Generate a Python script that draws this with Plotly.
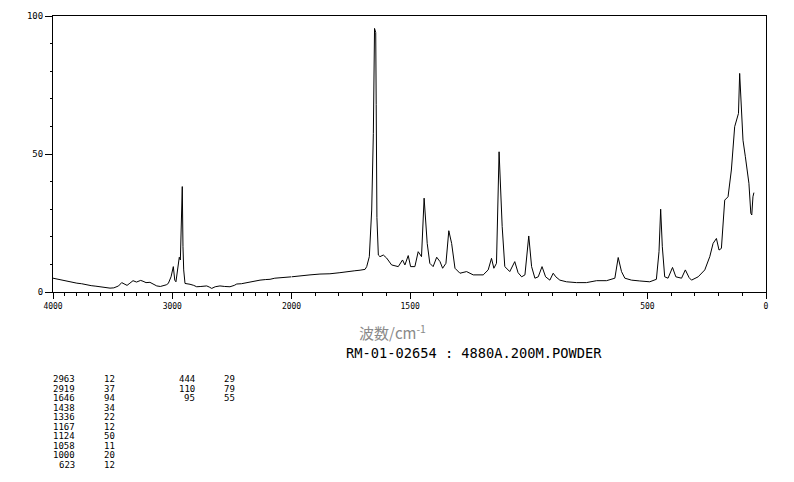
import plotly.graph_objects as go

# ---- spectrum data (wavenumber cm-1, relative intensity) ----
wavenumber = [4000, 3960, 3920, 3880, 3840, 3800, 3760, 3720, 3680, 3640, 3600, 3560, 3522, 3490, 3472, 3450,
              3424, 3400, 3379, 3355, 3329, 3300, 3287, 3265, 3245, 3220, 3187, 3160, 3130, 3100, 3075, 3050,
              3033, 3010, 2991, 2979, 2969, 2954, 2941, 2932, 2924, 2916, 2910, 2904, 2893, 2870, 2851, 2820,
              2795, 2760, 2711, 2690, 2669, 2640, 2600, 2560, 2516, 2480, 2459, 2420, 2376, 2348, 2300, 2264,
              2220, 2180, 2140, 2096, 2050, 2000,
              1964, 1922, 1880, 1838, 1796, 1775, 1754, 1733, 1711, 1690, 1683, 1672, 1662, 1655, 1650, 1645,
              1643, 1640, 1634, 1627, 1613, 1599, 1578, 1550, 1532, 1522, 1508, 1498, 1480, 1466, 1452, 1441,
              1428, 1417, 1403, 1388, 1374, 1363, 1349, 1337, 1325, 1311, 1290, 1262, 1234, 1192, 1171, 1157,
              1147, 1136, 1125, 1112, 1101, 1080, 1059, 1045, 1030, 1016, 1000, 988, 974, 960, 944, 929, 911,
              897, 886, 869, 841, 799, 757, 714, 672, 637, 623, 609, 595, 567, 532, 490, 462, 451, 444, 437,
              427, 413, 394, 380, 356, 340, 324, 314, 286, 258, 237, 223, 209, 198, 188, 174, 160, 146, 132,
              122, 116, 111, 104, 97, 87, 78, 72, 64, 60, 55, 51]
intensity = [5.0, 4.6, 4.3, 3.9, 3.6, 3.2, 3.0, 2.6, 2.3, 2.1, 1.8, 1.6, 1.4, 1.5, 1.9, 2.2,
             3.4, 2.8, 2.4, 3.2, 4.1, 3.6, 3.9, 4.2, 3.9, 3.4, 3.5, 2.8, 2.2, 2.0, 2.2, 2.6,
             3.1, 5.5, 9.2, 4.3, 3.7, 9.2, 12.6, 11.6, 24.9, 38.2, 16.4, 8.0, 3.1, 3.0, 2.8, 2.4,
             1.9, 2.0, 2.2, 1.8, 1.3, 1.9, 2.2, 2.0, 1.9, 2.4, 2.9, 3.0, 3.4, 3.4, 4.0, 4.3,
             4.5, 4.6, 5.0, 5.2, 5.3, 5.5,
             5.7, 6.2, 6.5, 6.6, 7.0, 7.3, 7.4, 7.7, 7.9, 8.2, 9.2, 12.8, 29.7, 57.5, 95.5, 94.0,
             68.0, 27.0, 13.4, 12.8, 13.4, 12.3, 9.8, 9.2, 11.6, 9.8, 13.2, 9.2, 9.2, 14.6, 12.8, 34.0,
             17.6, 10.4, 9.2, 12.6, 11.0, 8.6, 10.4, 22.2, 17.6, 8.6, 6.8, 7.4, 6.2, 6.2, 8.0, 12.2,
             8.6, 10.4, 50.8, 23.7, 9.2, 7.4, 11.0, 7.0, 5.5, 6.2, 20.3, 9.2, 5.0, 5.5, 9.2, 5.5, 4.3,
             6.8, 5.5, 4.3, 3.7, 3.4, 3.4, 4.1, 4.1, 5.0, 12.5, 7.4, 5.0, 4.3, 4.0, 3.7, 4.6, 14.6, 30.0, 16.4,
             5.5, 5.0, 8.9, 5.5, 5.0, 8.0, 5.2, 4.3, 5.5, 8.0, 12.8, 17.6, 19.4, 15.2, 15.8, 33.3, 34.5, 44.2, 59.9,
             63.3, 64.7, 79.2, 66.0, 55.0, 49.0, 41.8, 39.4, 28.5, 27.9, 34.5, 36.0]

# ---- peak table ----
peak_wn_1 = ["2963", "2919", "1646", "1438", "1336", "1167", "1124", "1058", "1000", "623"]
peak_int_1 = ["12", "37", "94", "34", "22", "12", "50", "11", "20", "12"]
peak_wn_2 = ["444", "110", "95"]
peak_int_2 = ["29", "79", "55"]

x_label = "波数/cm<sup>-1</sup>"
sample_id = "RM-01-02654 : 4880A.200M.POWDER"

W, H = 794, 482
def px(x): return x / W
def py(y): return 1 - y / H

# split the spectrum at 2000 cm-1 (two x scales)
hi_x = [w for w in wavenumber if w >= 2000]
hi_y = [i for w, i in zip(wavenumber, intensity) if w >= 2000]
lo_x = [w for w in wavenumber if w <= 2000]
lo_y = [i for w, i in zip(wavenumber, intensity) if w <= 2000]

fig = go.Figure()
fig.add_trace(go.Scatter(x=hi_x, y=hi_y, mode="lines", line=dict(color="black", width=1),
                         xaxis="x", yaxis="y", showlegend=False, hoverinfo="skip"))
fig.add_trace(go.Scatter(x=lo_x, y=lo_y, mode="lines", line=dict(color="black", width=1),
                         xaxis="x2", yaxis="y2", showlegend=False, hoverinfo="skip"))

mono = "DejaVu Sans Mono"
y_dom = [py(292), py(16)]
x_split = 291.5
common_x = dict(showline=True, linecolor="black", linewidth=1, mirror=True, ticks="outside",
                ticklen=6, tickcolor="black", tickwidth=1, showgrid=False, zeroline=False,
                automargin=False,
                tickfont=dict(family=mono, size=8, color="black"),
                minor=dict(tickmode="linear", tick0=0, dtick=100, ticks="outside", ticklen=3,
                           tickcolor="black", showgrid=False))

fig.update_layout(
    width=W, height=H, margin=dict(l=0, r=0, t=0, b=0, autoexpand=False),
    paper_bgcolor="white", plot_bgcolor="white",
    xaxis=dict(domain=[px(53), px(x_split)], range=[4000, 2000], anchor="y",
               tickmode="array", tickvals=[4000, 3000, 2000], ticktext=["4000", "3000", "2000"],
               **common_x),
    xaxis2=dict(domain=[px(x_split), px(766)], range=[2000, 0], anchor="y2",
                tickmode="array", tickvals=[1500, 500, 0], ticktext=["1500", "500", "0"],
                **common_x),
    yaxis=dict(domain=y_dom, range=[0, 100], anchor="x", showline=True, linecolor="black",
               linewidth=1, ticks="outside", ticklen=7, tickcolor="black", showgrid=False,
               zeroline=False, tickmode="array", tickvals=[0, 50, 100], automargin=False,
               tickfont=dict(family=mono, size=9, color="black"),
               minor=dict(tickmode="linear", tick0=0, dtick=10, ticks="outside", ticklen=2,
                          tickcolor="black", showgrid=False)),
    yaxis2=dict(domain=y_dom, range=[0, 100], anchor="x2", side="right", showline=True,
                linecolor="black", linewidth=1, ticks="", showticklabels=False, showgrid=False,
                zeroline=False, automargin=False),
)

ann = []
ann.append(dict(text=x_label, x=px(392), y=py(332), xref="paper", yref="paper",
                xanchor="center", yanchor="middle", showarrow=False,
                font=dict(family="Noto Sans CJK JP", size=15, color="#8a8a8a")))
ann.append(dict(text=sample_id, x=px(344), y=py(353), xref="paper", yref="paper",
                xanchor="left", yanchor="middle", showarrow=False,
                font=dict(family=mono, size=13.7, color="black")))
row0, dy = 379, 9.5
tf = dict(family=mono, size=9, color="black")
for i, (a, b) in enumerate(zip(peak_wn_1, peak_int_1)):
    yy = py(row0 + i * dy)
    ann.append(dict(text=a, x=px(77), y=yy, xref="paper", yref="paper", xanchor="right",
                    yanchor="middle", showarrow=False, font=tf))
    ann.append(dict(text=b, x=px(117), y=yy, xref="paper", yref="paper", xanchor="right",
                    yanchor="middle", showarrow=False, font=tf))
for i, (a, b) in enumerate(zip(peak_wn_2, peak_int_2)):
    yy = py(row0 + i * dy)
    ann.append(dict(text=a, x=px(197), y=yy, xref="paper", yref="paper", xanchor="right",
                    yanchor="middle", showarrow=False, font=tf))
    ann.append(dict(text=b, x=px(237), y=yy, xref="paper", yref="paper", xanchor="right",
                    yanchor="middle", showarrow=False, font=tf))
fig.update_layout(annotations=ann)

fig.write_html("out.html", config={"displayModeBar": False},
               post_script="document.body.style.margin='0';document.body.style.padding='0';"
                           "document.body.style.overflow='hidden';")
